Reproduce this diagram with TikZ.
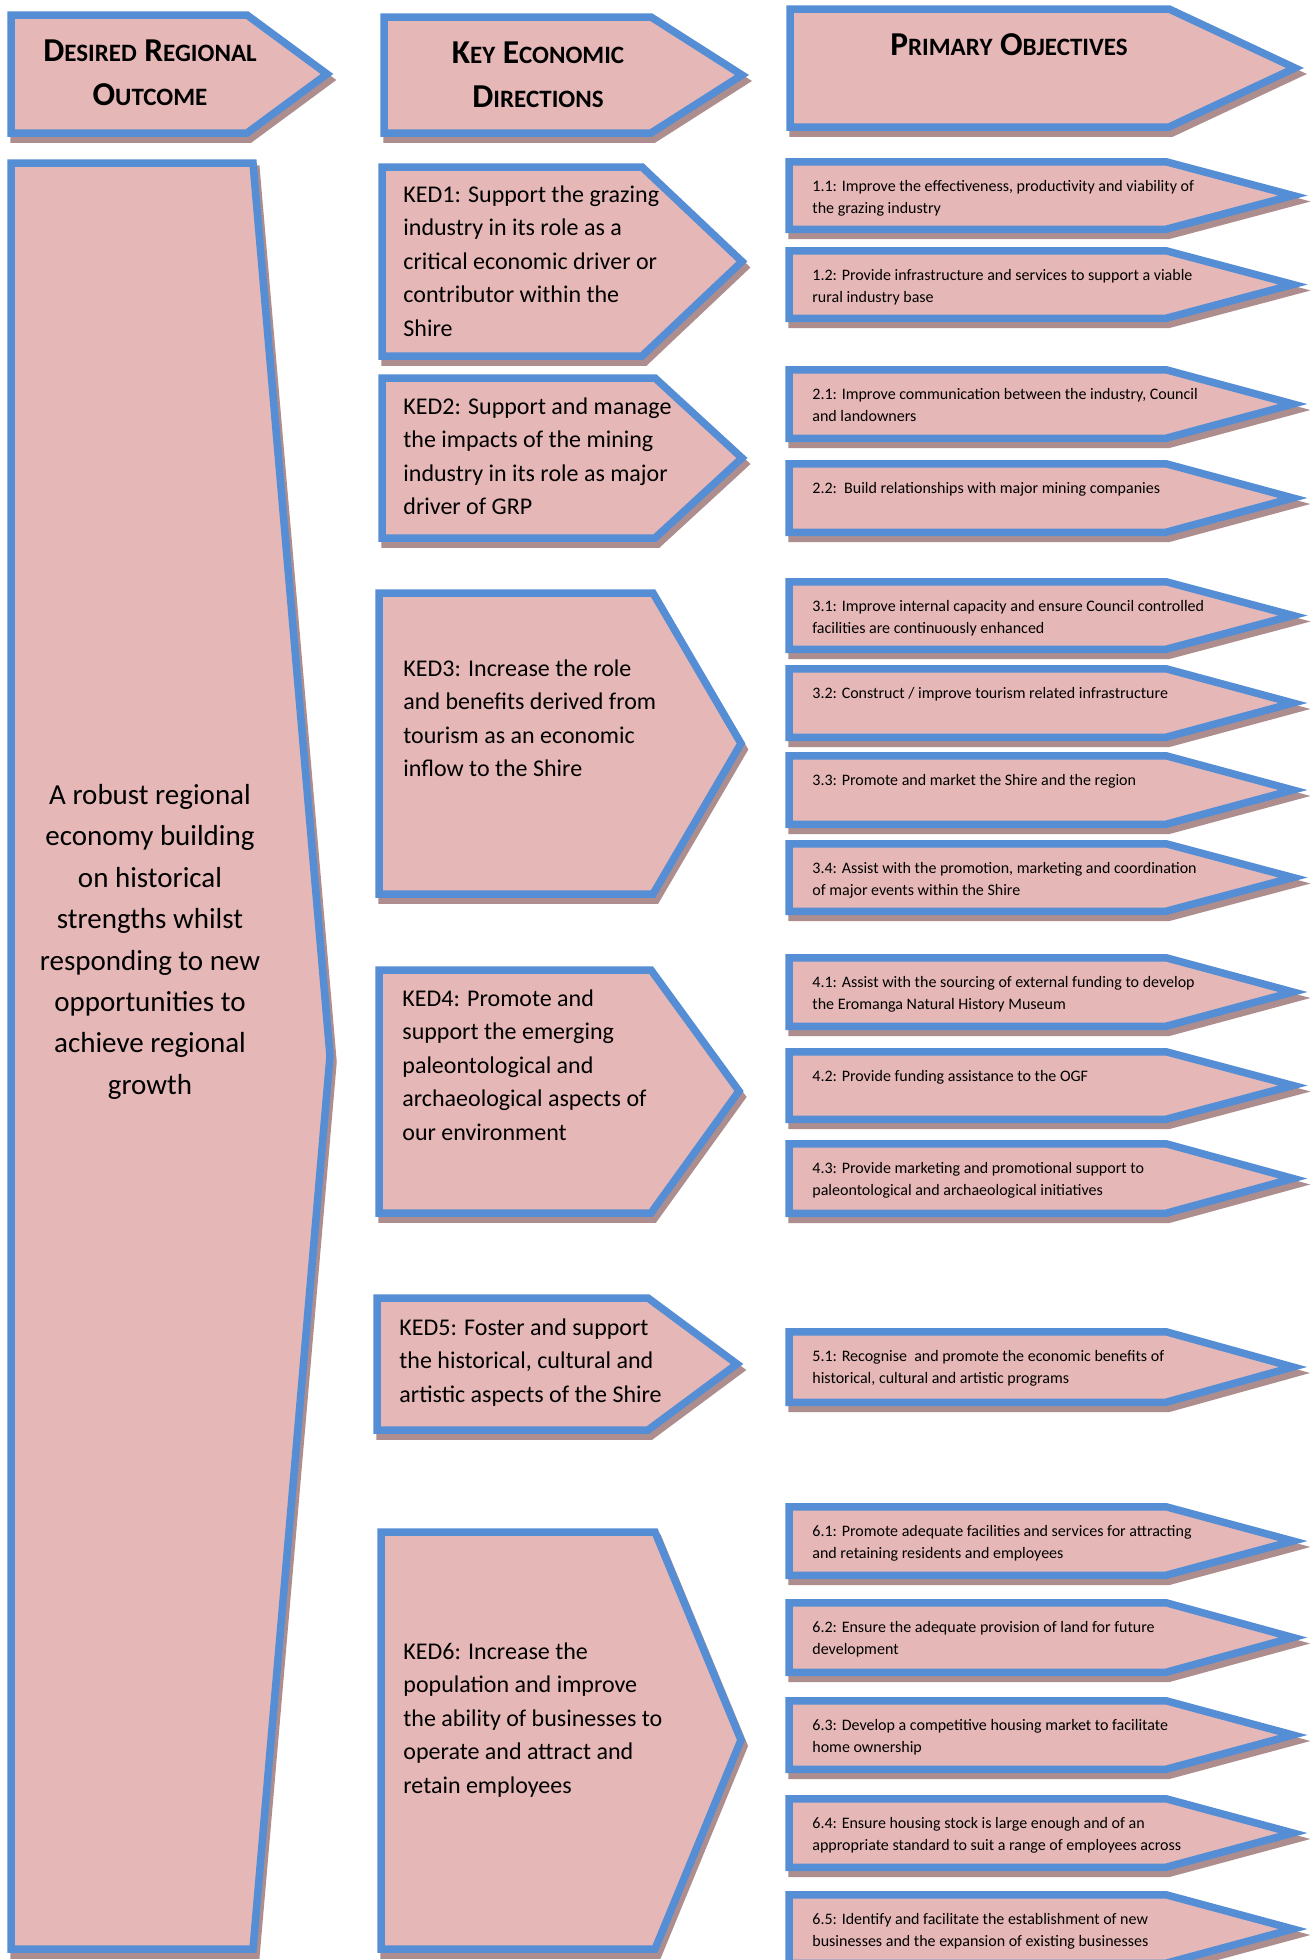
\documentclass[tikz,border=0pt]{standalone}
\usepackage{fontspec}
\setmainfont{Carlito}
\definecolor{pinkfill}{HTML}{E5B8B7}
\definecolor{bordblue}{HTML}{558ED5}
\definecolor{shadowc}{HTML}{AD8D8D}
\newcommand{\ts}{\rule{0pt}{1em}}
\newcommand{\fsc}[1]{{\fontsize{12.5}{22}\selectfont #1}}
\tikzset{
  boxline/.style={draw=bordblue, fill=pinkfill, line width=3.75pt, line join=miter},
  shadowline/.style={draw=shadowc, fill=shadowc, line width=3.75pt, line join=miter},
  objtext/.style={font=\fontsize{8}{11.1}\selectfont, align=left, inner sep=0pt, anchor=north west, text=black},
  kedtext/.style={font=\fontsize{12}{16.75}\selectfont, align=left, inner sep=0pt, anchor=north west, text=black},
  bigtext/.style={font=\fontsize{14.5}{20.7}\selectfont, align=center, inner sep=0pt, anchor=north, text=black},
  hdrtext/.style={font=\fontsize{16.7}{22}\selectfont\bfseries, align=center, inner sep=0pt, anchor=north, text=black}
}
% pentagon: left, top, bottom, corner x, tip x, tip y
\newcommand{\pentagon}[6]{%
  \draw[shadowline, shift={(3,6)}] (#1,#2) -- (#4,#2) -- (#5,#6) -- (#4,#3) -- (#1,#3) -- cycle;
  \draw[boxline] (#1,#2) -- (#4,#2) -- (#5,#6) -- (#4,#3) -- (#1,#3) -- cycle;
}
% objective box: name, outer top, outer bottom, text
\newcommand{\objbox}[4]{%
  \pgfmathsetmacro{\objT}{#2+3.75}%
  \pgfmathsetmacro{\objB}{#3-3.75}%
  \pgfmathsetmacro{\objM}{0.5*#2+0.5*#3}%
  \pgfmathsetmacro{\objY}{#2+17}%
  \pentagon{789}{\objT}{\objB}{1166}{1293}{\objM}
  \node[objtext] (#1) at (812,\objY) {\ts #4};
}
\begin{document}
\begin{tikzpicture}[x=0.5pt,y=-0.5pt]
\useasboundingbox (0,0) rectangle (1316,1960);
\clip (0,0) rectangle (1316,1960);
\fill[white] (0,0) rectangle (1316,1960);

% headers
\pentagon{11}{15}{133}{247}{327}{74}
\node[hdrtext] (h1) at (150,28) {\ts D\fsc{ESIRED} R\fsc{EGIONAL}\\O\fsc{UTCOME}};
\pentagon{384}{17}{133}{651}{742}{75}
\node[hdrtext] (h2) at (538,30) {\ts K\fsc{EY} E\fsc{CONOMIC}\\D\fsc{IRECTIONS}};
\pentagon{790}{9}{127}{1169}{1295}{68}
\node[hdrtext] (h3) at (1009,22) {\ts P\fsc{RIMARY} O\fsc{BJECTIVES}};

% desired outcome
\pentagon{11}{163}{1949}{253}{330}{1056}
\node[bigtext] (out) at (150,775) {\ts A robust regional\\economy building\\on historical\\strengths whilst\\responding to new\\opportunities to\\achieve regional\\growth};

% KEDs
\pentagon{382}{167}{356}{642}{742}{261.5}
\node[kedtext] (k1) at (403,178) {\ts KED1: Support the grazing\\industry in its role as a\\critical economic driver or\\contributor within the\\Shire};
\pentagon{382}{378}{538}{655}{742}{458}
\node[kedtext] (k2) at (403,390) {\ts KED2: Support and manage\\the impacts of the mining\\industry in its role as major\\driver of GRP};
\pentagon{379}{593}{894}{653}{741}{743.5}
\node[kedtext] (k3) at (403,652) {\ts KED3: Increase the role\\and benefits derived from\\tourism as an economic\\inflow to the Shire};
\pentagon{379}{970}{1213}{651}{739}{1091}
\node[kedtext] (k4) at (402,982) {\ts KED4: Promote and\\support the emerging\\paleontological and\\archaeological aspects of\\our environment};
\pentagon{377}{1298}{1430}{648}{737}{1364}
\node[kedtext] (k5) at (399,1311) {\ts KED5: Foster and support\\the historical, cultural and\\artistic aspects of the Shire};
\pentagon{381}{1532}{1949}{655}{741}{1740}
\node[kedtext] (k6) at (403,1635) {\ts KED6: Increase the\\population and improve\\the ability of businesses to\\operate and attract and\\retain employees};

% objectives
\objbox{o11}{158}{233}{1.1: Improve the effectiveness, productivity and viability of\\the grazing industry}
\objbox{o12}{247}{322}{1.2: Provide infrastructure and services to support a viable\\rural industry base}
\objbox{o21}{366}{442}{2.1: Improve communication between the industry, Council\\and landowners}
\objbox{o22}{460}{536}{2.2:\ \ Build relationships with major mining companies}
\objbox{o31}{578}{653}{3.1: Improve internal capacity and ensure Council controlled\\facilities are continuously enhanced}
\objbox{o32}{665}{741}{3.2: Construct / improve tourism related infrastructure}
\objbox{o33}{752}{828}{3.3: Promote and market the Shire and the region}
\objbox{o34}{840}{915}{3.4: Assist with the promotion, marketing and coordination\\of major events within the Shire}
\objbox{o41}{954}{1030}{4.1: Assist with the sourcing of external funding to develop\\the Eromanga Natural History Museum}
\objbox{o42}{1048}{1123}{4.2: Provide funding assistance to the OGF}
\objbox{o43}{1140}{1217}{4.3: Provide marketing and promotional support to\\paleontological and archaeological initiatives}
\objbox{o51}{1328}{1406}{5.1: Recognise\ \ and promote the economic benefits of\\historical, cultural and artistic programs}
\objbox{o61}{1503}{1579}{6.1: Promote adequate facilities and services for attracting\\and retaining residents and employees}
\objbox{o62}{1599}{1676}{6.2: Ensure the adequate provision of land for future\\development}
\objbox{o63}{1697}{1773}{6.3: Develop a competitive housing market to facilitate\\home ownership}
\objbox{o64}{1795}{1871}{6.4: Ensure housing stock is large enough and of an\\appropriate standard to suit a range of employees across}
\objbox{o65}{1891}{1967}{6.5: Identify and facilitate the establishment of new\\businesses and the expansion of existing businesses}
\end{tikzpicture}
\end{document}
